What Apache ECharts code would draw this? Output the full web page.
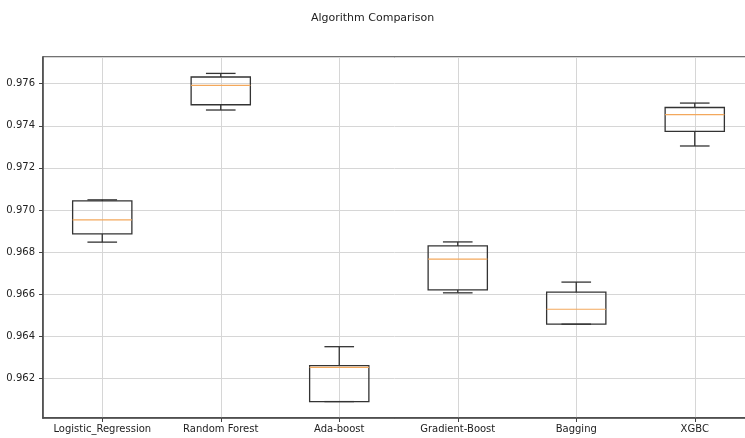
<!DOCTYPE html>
<html>
<head>
<meta charset="utf-8">
<script src="https://cdn.jsdelivr.net/npm/echarts@6/dist/echarts.min.js"></script>
<style>
  html, body { margin: 0; padding: 0; background: #ffffff; }
  #chart { width: 745px; height: 438px; }
</style>
</head>
<body>
<div id="chart"></div>
<script>
// Cross-validation accuracy spread per algorithm (box plot statistics)
const algorithms  = ['Logistic_Regression', 'Random Forest', 'Ada-boost', 'Gradient-Boost', 'Bagging', 'XGBC'];
const whiskerLow  = [0.96847, 0.97475, 0.96089, 0.96606, 0.96457, 0.97304];
const quartile1   = [0.96886, 0.97500, 0.96089, 0.96620, 0.96457, 0.97373];
const medians     = [0.96953, 0.97592, 0.96252, 0.96766, 0.96528, 0.97453];
const quartile3   = [0.97043, 0.97632, 0.96260, 0.96829, 0.96609, 0.97487];
const whiskerHigh = [0.97048, 0.97649, 0.96350, 0.96848, 0.96657, 0.97508];
const yTickStep   = 0.002;

const rows = algorithms.map((name, i) => [
  i + 1, whiskerLow[i], quartile1[i], medians[i], quartile3[i], whiskerHigh[i]
]);

const font = 'DejaVu Sans, Liberation Sans, sans-serif';
const edge = '#333333';
const medianColor = '#f3a85c';

function renderItem(params, api) {
  const pos = api.value(0);
  const lo = api.coord([pos, api.value(1)]);
  const q1 = api.coord([pos, api.value(2)]);
  const md = api.coord([pos, api.value(3)]);
  const q3 = api.coord([pos, api.value(4)]);
  const hi = api.coord([pos, api.value(5)]);
  const band = api.size([1, 0])[0];
  const halfBox = band * 0.25;
  const halfCap = band * 0.125;
  const cx = lo[0];
  const stroke = { stroke: edge, lineWidth: 1.3, fill: null };
  return {
    type: 'group',
    children: [
      { type: 'line', shape: { x1: cx, y1: q3[1], x2: cx, y2: hi[1] }, style: stroke },
      { type: 'line', shape: { x1: cx, y1: q1[1], x2: cx, y2: lo[1] }, style: stroke },
      { type: 'line', shape: { x1: cx - halfCap, y1: hi[1], x2: cx + halfCap, y2: hi[1] }, style: stroke },
      { type: 'line', shape: { x1: cx - halfCap, y1: lo[1], x2: cx + halfCap, y2: lo[1] }, style: stroke },
      { type: 'rect', shape: { x: cx - halfBox, y: q3[1], width: halfBox * 2, height: q1[1] - q3[1] },
        style: { stroke: edge, lineWidth: 1.3, fill: 'rgba(0,0,0,0)' } },
      { type: 'line', shape: { x1: cx - halfBox, y1: md[1], x2: cx + halfBox, y2: md[1] },
        style: { stroke: medianColor, lineWidth: 1.2 } }
    ]
  };
}

const chart = echarts.init(document.getElementById('chart'), null, { renderer: 'canvas' });
chart.setOption({
  animation: false,
  backgroundColor: '#ffffff',
  title: {
    text: 'Algorithm Comparison',
    left: 'center',
    top: 8,
    textStyle: { fontFamily: font, fontSize: 11, fontWeight: 'normal', color: '#222222' }
  },
  grid: {
    left: 43, top: 57, width: 711, height: 361,
    outerBoundsMode: 'none',
    containLabel: false,
    show: true, borderColor: '#444444', borderWidth: 1.3
  },
  xAxis: {
    type: 'value',
    min: 0.5, max: algorithms.length + 0.5,
    splitNumber: algorithms.length,
    axisLine: { show: true, lineStyle: { color: '#444444', width: 1.5 } },
    axisTick: { show: true, length: 4, lineStyle: { color: '#444444' } },
    splitLine: { show: true, lineStyle: { color: '#d6d6d6', width: 1 } },
    axisLabel: {
      margin: 6,
      fontFamily: font, fontSize: 10, color: '#222222',
      showMinLabel: false, showMaxLabel: false,
      formatter: v => (Number.isInteger(v) && v >= 1 && v <= algorithms.length) ? algorithms[v - 1] : ''
    }
  },
  yAxis: {
    type: 'value',
    min: 0.96011, max: 0.97727,
    splitNumber: 8,
    axisLine: { show: true, lineStyle: { color: '#444444', width: 1.5 } },
    axisTick: { show: true, length: 4, lineStyle: { color: '#444444' } },
    splitLine: { show: true, lineStyle: { color: '#d6d6d6', width: 1 } },
    axisLabel: {
      margin: 8,
      fontFamily: font, fontSize: 10, color: '#222222',
      showMinLabel: false, showMaxLabel: false,
      formatter: v => Math.abs(v / yTickStep - Math.round(v / yTickStep)) < 1e-6 ? v.toFixed(3) : ''
    }
  },
  series: [{
    type: 'custom',
    renderItem: renderItem,
    encode: { x: 0, y: [1, 2, 3, 4, 5] },
    data: rows,
    clip: false
  }]
});
</script>
</body>
</html>
